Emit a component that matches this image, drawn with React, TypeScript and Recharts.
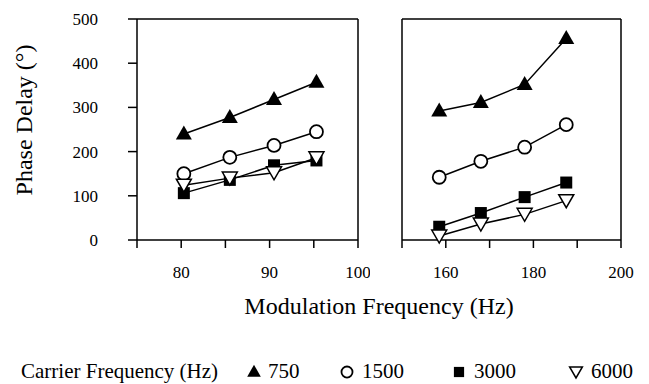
import React from "react";
import { ScatterChart, Scatter, XAxis, YAxis, CartesianGrid } from "recharts";

// modulation frequencies (Hz) for the two panels
const modLow = [80.3, 85.5, 90.5, 95.3];
const modHigh = [158.5, 168, 178, 187.5];

// phase delay (deg) per carrier frequency, low panel
const phase750Low = [240, 277, 318, 357];
const phase1500Low = [150, 187, 214, 245];
const phase3000Low = [106, 136, 169, 180];
const phase6000Low = [124, 140, 152, 186];

// phase delay (deg) per carrier frequency, high panel
const phase750High = [292, 311, 352, 456];
const phase1500High = [142, 178, 210, 261];
const phase3000High = [30, 61, 97, 130];
const phase6000High = [9, 36, 58, 89];

const carriers = ["750", "1500", "3000", "6000"];
const yTicks = [0, 100, 200, 300, 400, 500];
const lowTicks = [75, 80, 85, 90, 95, 100];
const lowLabels = [80, 90, 100];
const highTicks = [150, 160, 170, 180, 190, 200];
const highLabels = [160, 180, 200];

const FONT = "Liberation Serif, Times New Roman, serif";

const toPoints = (xs: number[], ys: number[]) => xs.map((x, i) => ({ x, y: ys[i] }));

type Kind = "tri" | "circle" | "square" | "inv";
const kinds: Kind[] = ["tri", "circle", "square", "inv"];

function Marker({ kind, cx, cy, s = 1 }: { kind: Kind; cx: number; cy: number; s?: number }) {
  if (kind === "tri")
    return (
      <polygon
        points={`${cx},${cy - 8.5 * s} ${cx - 8 * s},${cy + 5.5 * s} ${cx + 8 * s},${cy + 5.5 * s}`}
        fill="#000"
      />
    );
  if (kind === "circle")
    return <circle cx={cx} cy={cy} r={6.5 * s} fill="#fff" stroke="#000" strokeWidth={1.8} />;
  if (kind === "square")
    return <rect x={cx - 6 * s} y={cy - 6 * s} width={12 * s} height={12 * s} fill="#000" />;
  return (
    <polygon
      points={`${cx - 7.5 * s},${cy - 6 * s} ${cx + 7.5 * s},${cy - 6 * s} ${cx},${cy + 7 * s}`}
      fill="#fff"
      stroke="#000"
      strokeWidth={1.5}
    />
  );
}

const axisStyle = { stroke: "#000", strokeWidth: 1.5 };
const tickFont = { fontSize: 17, fill: "#000", fontFamily: FONT };

function Panel({
  xs,
  series,
  domain,
  ticks,
  labels,
  showY,
  left,
  width,
  yWidth,
  right,
}: {
  xs: number[];
  series: number[][];
  domain: [number, number];
  ticks: number[];
  labels: number[];
  showY: boolean;
  left: number;
  width: number;
  yWidth: number;
  right: number;
}) {
  return (
    <div style={{ position: "absolute", left, top: 0 }}>
      <ScatterChart width={width} height={300} margin={{ top: 19, right, bottom: 10, left: 0 }}>
        {/* only the top and right edges of the box */}
        <CartesianGrid
          stroke="#000"
          strokeWidth={1.5}
          horizontalCoordinatesGenerator={({ offset }: any) => [offset.top]}
          verticalCoordinatesGenerator={({ offset }: any) => [offset.left + offset.width]}
        />
        <XAxis
          type="number"
          dataKey="x"
          domain={domain}
          ticks={ticks}
          interval={0}
          allowDataOverflow
          tickFormatter={(v: number) => (labels.includes(v) ? String(v) : "")}
          tick={tickFont}
          tickSize={8}
          tickMargin={18}
          height={50}
          axisLine={axisStyle}
          tickLine={axisStyle}
        />
        <YAxis
          type="number"
          dataKey="y"
          domain={[0, 500]}
          ticks={yTicks}
          interval={0}
          tick={showY ? tickFont : false}
          tickSize={9}
          tickMargin={30}
          width={yWidth}
          axisLine={axisStyle}
          tickLine={axisStyle}
        />
        {series.map((ys, i) => (
          <Scatter
            key={carriers[i]}
            name={carriers[i]}
            data={toPoints(xs, ys)}
            line={{ stroke: "#000", strokeWidth: 1.5 }}
            isAnimationActive={false}
            shape={(p: any) => <Marker kind={kinds[i]} cx={p.cx} cy={p.cy} />}
          />
        ))}
      </ScatterChart>
    </div>
  );
}

// legend x positions: [icon centre, label left]
const legendPos: [number, number][] = [
  [254, 268],
  [347, 362],
  [459, 474],
  [576, 591],
];
const LEGEND_Y = 371;

export default function App() {
  return (
    <div
      style={{
        position: "absolute",
        left: 0,
        top: 0,
        width: 649,
        height: 384,
        background: "#fff",
        fontFamily: FONT,
        color: "#000",
      }}
    >
      <Panel
        xs={modLow}
        series={[phase750Low, phase1500Low, phase3000Low, phase6000Low]}
        domain={[75, 100]}
        ticks={lowTicks}
        labels={lowLabels}
        showY
        left={0}
        width={370}
        yWidth={137}
        right={12}
      />
      <Panel
        xs={modHigh}
        series={[phase750High, phase1500High, phase3000High, phase6000High]}
        domain={[150, 200]}
        ticks={highTicks}
        labels={highLabels}
        showY={false}
        left={370}
        width={279}
        yWidth={32}
        right={28}
      />
      <div
        style={{
          position: "absolute",
          left: 24,
          top: 120,
          transform: "translate(-50%, -50%) rotate(-90deg)",
          whiteSpace: "nowrap",
          fontSize: 24,
        }}
      >
        Phase Delay (°)
      </div>
      <div
        style={{
          position: "absolute",
          left: 379,
          top: 306,
          transform: "translate(-50%, -50%)",
          whiteSpace: "nowrap",
          fontSize: 24,
        }}
      >
        Modulation Frequency (Hz)
      </div>
      <div
        style={{
          position: "absolute",
          left: 21,
          top: LEGEND_Y,
          transform: "translateY(-50%)",
          whiteSpace: "nowrap",
          fontSize: 21,
        }}
      >
        Carrier Frequency (Hz)
      </div>
      {carriers.map((c, i) => (
        <React.Fragment key={c}>
          <svg
            width={20}
            height={20}
            style={{ position: "absolute", left: legendPos[i][0] - 10, top: LEGEND_Y - 9 }}
          >
            <Marker kind={kinds[i]} cx={10} cy={10} s={0.85} />
          </svg>
          <div
            style={{
              position: "absolute",
              left: legendPos[i][1],
              top: LEGEND_Y,
              transform: "translateY(-50%)",
              fontSize: 21,
            }}
          >
            {c}
          </div>
        </React.Fragment>
      ))}
    </div>
  );
}
